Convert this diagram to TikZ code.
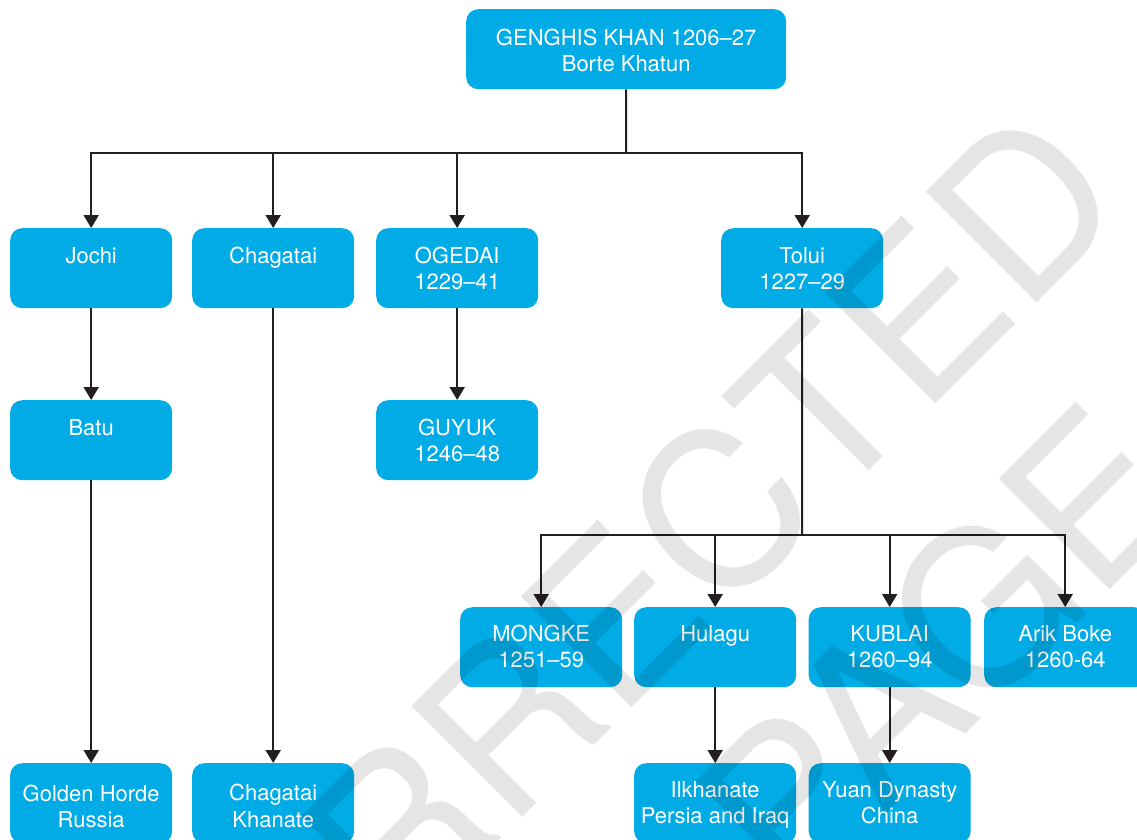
\documentclass[tikz,border=0pt]{standalone}
\usepackage{fontspec}
\setmainfont{TeX Gyre Heros}
\usetikzlibrary{arrows.meta}
\definecolor{nodeblue}{RGB}{0,171,230}
\definecolor{linecol}{RGB}{35,31,32}
\newcommand\bxc[3]{\vbox to 80pt{\hsize=#1pt\parindent=0pt\centering\baselineskip=26.5pt\lineskiplimit=-50pt\leavevmode\rule{0pt}{#2pt}#3\par\vfil}}
\begin{document}
\begin{tikzpicture}[x=1pt,y=-1pt,
  font=\fontsize{22}{26.5}\selectfont,
  box/.style={fill=nodeblue, rounded corners=12pt, inner sep=0pt, text=white, anchor=north west},
  conn/.style={draw=linecol, line width=2pt},
  arr/.style={conn, -{Triangle[width=15pt,length=13pt]}},
  wm/.style={font=\fontsize{215}{215}\selectfont, text=black, text opacity=0.1, inner sep=0pt, anchor=base west, rotate=45}]
\useasboundingbox (0,0) rectangle (1137,839);
\clip (0,0) rectangle (1137,839);
\fill[white] (0,0) rectangle (1137,839);
% boxes
\node[box] (genghis) at (466,9) {\bxc{320}{36}{GENGHIS KHAN 1206–27\\Borte Khatun}};
\node[box] (jochi) at (10,228) {\bxc{162}{35}{Jochi}};
\node[box] (chagatai) at (192,228) {\bxc{162}{35}{Chagatai}};
\node[box] (ogedai) at (376,228) {\bxc{162}{35}{OGEDAI\\1229–41}};
\node[box] (tolui) at (721,228) {\bxc{162}{35}{Tolui\\1227–29}};
\node[box] (batu) at (10,400) {\bxc{162}{35}{Batu}};
\node[box] (guyuk) at (376,400) {\bxc{162}{35}{GUYUK\\1246–48}};
\node[box] (mongke) at (460,607) {\bxc{162}{34}{MONGKE\\1251–59}};
\node[box] (hulagu) at (634,607) {\bxc{162}{34}{Hulagu}};
\node[box] (kublai) at (808.5,607) {\bxc{162}{34}{KUBLAI\\1260–94}};
\node[box] (arik) at (984,607) {\bxc{162}{34}{Arik Boke\\1260-64}};
\node[box] (golden) at (10,763) {\bxc{162}{38}{Golden Horde\\Russia}};
\node[box] (chkhan) at (192,763) {\bxc{162}{37.5}{Chagatai\\Khanate}};
\node[box] (ilkh) at (634,763) {\bxc{162}{34}{Ilkhanate\\Persia and Iraq}};
\node[box] (yuan) at (808.5,763) {\bxc{162}{34}{Yuan Dynasty\\China}};
% connectors
\coordinate (b1) at (626,153);
\draw[conn] (genghis.south) -- (b1);
\draw[arr] (b1) -| (jochi.north);
\draw[arr] (b1) -| (chagatai.north);
\draw[arr] (b1) -| (ogedai.north);
\draw[arr] (b1) -| (tolui.north);
\draw[arr] (jochi.south) -- (batu.north);
\draw[arr] (batu.south) -- (golden.north);
\draw[arr] (chagatai.south) -- (chkhan.north);
\draw[arr] (ogedai.south) -- (guyuk.north);
\coordinate (b2) at (802,535);
\draw[conn] (tolui.south) -- (b2);
\draw[arr] (b2) -| (mongke.north);
\draw[arr] (b2) -| (hulagu.north);
\draw[arr] (b2) -| (kublai.north);
\draw[arr] (b2) -| (arik.north);
\draw[arr] (hulagu.south) -- (ilkh.north);
\draw[arr] (kublai.south) -- (yuan.north);
% watermark
\node[wm] (wm1) at (172,1168) {CORRECTED};
\node[wm] (wm2) at (793,907) {PAGE};
\end{tikzpicture}
\end{document}
